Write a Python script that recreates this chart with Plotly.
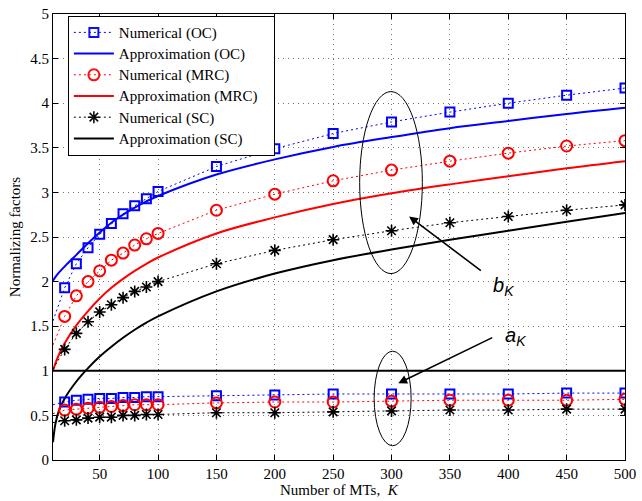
import plotly.graph_objects as go

# ---------------- data ----------------
K_num = [10, 20, 30, 40, 50, 60, 70, 80, 90, 100, 150, 200, 250, 300, 350, 400, 450, 500]
b_oc_num = [1.56, 1.93, 2.20, 2.38, 2.53, 2.65, 2.76, 2.85, 2.93, 3.01, 3.29, 3.49, 3.66, 3.79, 3.90, 4.00, 4.09, 4.17]
b_mrc_num = [1.29, 1.61, 1.84, 2.00, 2.12, 2.24, 2.32, 2.41, 2.48, 2.54, 2.80, 2.98, 3.13, 3.25, 3.35, 3.44, 3.52, 3.58]
b_sc_num = [1.02, 1.24, 1.42, 1.55, 1.66, 1.74, 1.82, 1.89, 1.94, 2.00, 2.20, 2.35, 2.47, 2.57, 2.66, 2.73, 2.80, 2.86]
a_oc_num = [0.62, 0.65, 0.67, 0.68, 0.69, 0.69, 0.70, 0.70, 0.71, 0.71, 0.72, 0.73, 0.74, 0.74, 0.74, 0.74, 0.75, 0.75]
a_mrc_num = [0.52, 0.56, 0.57, 0.58, 0.59, 0.60, 0.61, 0.62, 0.62, 0.62, 0.64, 0.65, 0.65, 0.66, 0.67, 0.67, 0.67, 0.68]
a_sc_num = [0.42, 0.44, 0.45, 0.47, 0.48, 0.48, 0.50, 0.50, 0.51, 0.51, 0.53, 0.53, 0.54, 0.55, 0.56, 0.56, 0.57, 0.57]

K_app = [10, 12, 15, 20, 30, 40, 50, 60, 70, 80, 90, 100, 150, 200, 250, 300, 350, 400, 450, 500]
b_oc_app = [2.01, 2.05, 2.10, 2.17, 2.30, 2.43, 2.55, 2.66, 2.75, 2.83, 2.90, 2.96, 3.20, 3.37, 3.51, 3.62, 3.72, 3.80, 3.88, 3.95]
b_mrc_app = [1.00, 1.08, 1.18, 1.31, 1.51, 1.67, 1.81, 1.93, 2.03, 2.12, 2.20, 2.27, 2.54, 2.72, 2.87, 2.99, 3.09, 3.18, 3.27, 3.35]
b_sc_app = [0.20, 0.40, 0.55, 0.69, 0.88, 1.03, 1.16, 1.27, 1.37, 1.46, 1.54, 1.61, 1.89, 2.09, 2.24, 2.36, 2.47, 2.57, 2.67, 2.77]

K_a_app = [10, 500]
a_app = [1.0, 1.0]

x_ticks = [50, 100, 150, 200, 250, 300, 350, 400, 450, 500]
y_ticks = [0, 0.5, 1, 1.5, 2, 2.5, 3, 3.5, 4, 4.5, 5]

legend_names = ["Numerical (OC)", "Approximation (OC)", "Numerical (MRC)",
                "Approximation (MRC)", "Numerical (SC)", "Approximation (SC)"]

# ---------------- styling ----------------
FONT = "Liberation Serif"
BLUE, RED, BLACK = "#0000FF", "#FF0000", "#000000"
DOT = "2px,3px"
hide_first = [0] + [1] * (len(K_num) - 1)

def lg(name, pad=""):
    return '<span style="font-size:15px">' + name + pad + "</span>"

fig = go.Figure()

def numerical(y, color, symbol, size, lw, name, show):
    fig.add_trace(go.Scatter(
        x=K_num, y=y, name=name, showlegend=show, mode="lines+markers",
        line=dict(color=color, width=1, dash=DOT),
        marker=dict(symbol=symbol, size=size, color=color, opacity=hide_first,
                    line=dict(color=color, width=lw)),
    ))

def approx(x, y, color, name, show):
    fig.add_trace(go.Scatter(
        x=x, y=y, name=name, showlegend=show, mode="lines",
        line=dict(color=color, width=2, shape="spline", smoothing=1.0),
    ))

numerical(b_oc_num, BLUE, "square-open", 9, 2, lg(legend_names[0]), True)
approx(K_app, b_oc_app, BLUE, lg(legend_names[1]), True)
numerical(b_mrc_num, RED, "circle-open", 11, 2, lg(legend_names[2]), True)
approx(K_app, b_mrc_app, RED, lg(legend_names[3], "\u00a0\u00a0\u00a0"), True)
numerical(b_sc_num, BLACK, "asterisk-open", 10, 1.6, lg(legend_names[4]), True)
approx(K_app, b_sc_app, BLACK, lg(legend_names[5]), True)

numerical(a_oc_num, BLUE, "square-open", 9, 2, "a OC", False)
numerical(a_mrc_num, RED, "circle-open", 11, 2, "a MRC", False)
numerical(a_sc_num, BLACK, "asterisk-open", 10, 1.6, "a SC", False)
approx(K_a_app, a_app, BLACK, "a approx", False)

axis_common = dict(
    showline=True, linecolor="black", linewidth=1, mirror="ticks",
    ticks="inside", ticklen=5, tickcolor="black",
    showgrid=True, gridcolor="rgba(0,0,0,0.55)", gridwidth=1, griddash="1px,4px",
    zeroline=False, tickfont=dict(family=FONT, size=15, color="black"),
    ticklabeloverflow="allow",
)

fig.update_xaxes(range=[10, 500], tickvals=x_ticks, **axis_common)
fig.update_yaxes(range=[0, 5], tickvals=y_ticks, **axis_common,
                 title=dict(text="Normalizing factors",
                            font=dict(family=FONT, size=15, color="black"), standoff=6))

# x-axis title
fig.add_annotation(xref="paper", yref="paper", x=0.5, y=-0.067, xanchor="center", yanchor="middle",
                   showarrow=False, text="Number of MTs,\u00a0\u00a0<i>K</i>",
                   font=dict(family=FONT, size=15, color="black"))

# ellipses
fig.add_shape(type="circle", xref="x", yref="y", x0=272.7, x1=326.4, y0=2.09, y1=4.13,
              line=dict(color="black", width=1))
fig.add_shape(type="circle", xref="x", yref="y", x0=285.1, x1=316.8, y0=0.16, y1=1.22,
              line=dict(color="black", width=1))

# arrows
fig.add_annotation(x=315.1, y=2.73, ax=377.8, ay=2.11, xref="x", yref="y", axref="x", ayref="y",
                   text="", showarrow=True, arrowhead=2, arrowsize=1.1, arrowwidth=1.6,
                   arrowcolor="black", standoff=0, startstandoff=0)
fig.add_annotation(x=305.8, y=0.86, ax=387.6, ay=1.38, xref="x", yref="y", axref="x", ayref="y",
                   text="", showarrow=True, arrowhead=2, arrowsize=1.1, arrowwidth=1.6,
                   arrowcolor="black", standoff=0, startstandoff=0)
fig.add_annotation(x=396.0, y=1.94, xref="x", yref="y", showarrow=False,
                   text="<i>b</i><sub><i>K</i></sub>",
                   font=dict(family="Liberation Sans", size=20, color="black"))
fig.add_annotation(x=406.5, y=1.39, xref="x", yref="y", showarrow=False,
                   text="<i>a</i><sub><i>K</i></sub>",
                   font=dict(family="Liberation Sans", size=20, color="black"))

fig.update_layout(
    width=642, height=501,
    margin=dict(l=53, r=12, t=6, b=41),
    paper_bgcolor="white", plot_bgcolor="white",
    font=dict(family=FONT, size=15, color="black"),
    showlegend=True,
    legend=dict(x=0.026, y=0.996, xanchor="left", yanchor="top",
                bgcolor="white", bordercolor="black", borderwidth=1,
                font=dict(family=FONT, size=14, color="black"),
                itemwidth=40, tracegroupgap=0),
)

fig.write_html("out.html")
